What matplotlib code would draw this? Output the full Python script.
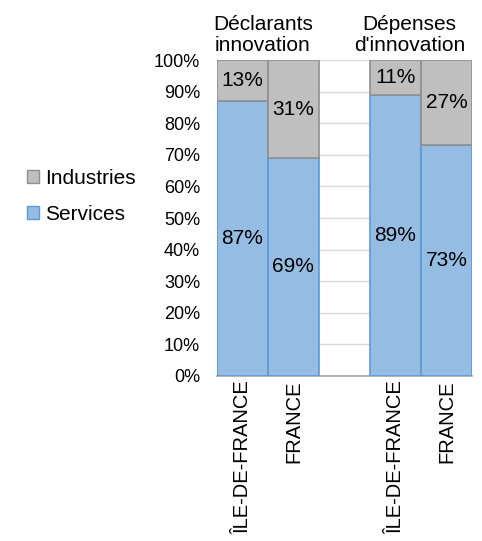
import matplotlib
matplotlib.use('Agg')
import matplotlib.pyplot as plt
import matplotlib.transforms as mtransforms
from matplotlib.patches import Patch

plt.rcParams['font.family'] = ['Liberation Sans', 'DejaVu Sans']

# data
categories = ['ÎLE-DE-FRANCE', 'FRANCE', '', 'ÎLE-DE-FRANCE', 'FRANCE']
services = [87, 69, None, 89, 73]
industries = [13, 31, None, 11, 27]
groups = ['Déclarants\ninnovation', "Dépenses\nd'innovation"]

blue = '#95BDE4'
blue_edge = '#5B9BD5'
grey = '#BFBFBF'
grey_edge = '#8F8F8F'

fig = plt.figure(figsize=(4.82, 5.41), dpi=100)
ax = fig.add_axes([0.450, 0.305, 0.529, 0.584])

xs = [i for i, v in enumerate(services) if v is not None]
sv = [services[i] for i in xs]
iv = [industries[i] for i in xs]

ax.bar(xs, sv, width=1.0, color=blue, edgecolor=blue_edge, linewidth=1.2, zorder=3)
ax.bar(xs, iv, bottom=sv, width=1.0, color=grey, edgecolor=grey_edge, linewidth=1.2, zorder=3)

for x, s, i in zip(xs, sv, iv):
    ax.text(x, s / 2, f'{s}%', ha='center', va='center', fontsize=15, zorder=4)
    ax.text(x, s + i / 2, f'{i}%', ha='center', va='center', fontsize=15, zorder=4)

ax.set_xlim(-0.5, 4.5)
ax.set_ylim(0, 100)
ax.set_yticks(range(0, 101, 10))
ax.set_yticklabels([f'{t}%' for t in range(0, 101, 10)], fontsize=13)
ax.set_xticks(range(len(categories)))
ax.set_xticklabels(categories, rotation=90, fontsize=14.5, va='top')
ax.tick_params(length=0)
ax.tick_params(axis='y', pad=12)
ax.tick_params(axis='x', pad=3)
ax.grid(axis='y', color='#D9D9D9', linewidth=1, zorder=0)
for side in ['top', 'right', 'left']:
    ax.spines[side].set_visible(False)
ax.spines['bottom'].set_color('#A6A6A6')
ax.spines['bottom'].set_linewidth(1.2)

trans = mtransforms.blended_transform_factory(ax.transData, ax.transAxes)
ax.text(0.4, 1.015, groups[0], transform=trans, ha='center', va='bottom',
        fontsize=15, linespacing=1.15)
ax.text(3.28, 1.015, groups[1], transform=trans, ha='center', va='bottom',
        fontsize=15, linespacing=1.15)

handles = [Patch(facecolor=grey, edgecolor=grey_edge), Patch(facecolor=blue, edgecolor=blue_edge)]
fig.legend(handles, ['Industries', 'Services'], loc='center left',
           bbox_to_anchor=(0.026, 0.637), frameon=False, fontsize=15,
           handlelength=0.55, handleheight=0.55, handletextpad=0.3, labelspacing=0.8,
           borderpad=0.2)

fig.savefig('out.png', dpi=100)
